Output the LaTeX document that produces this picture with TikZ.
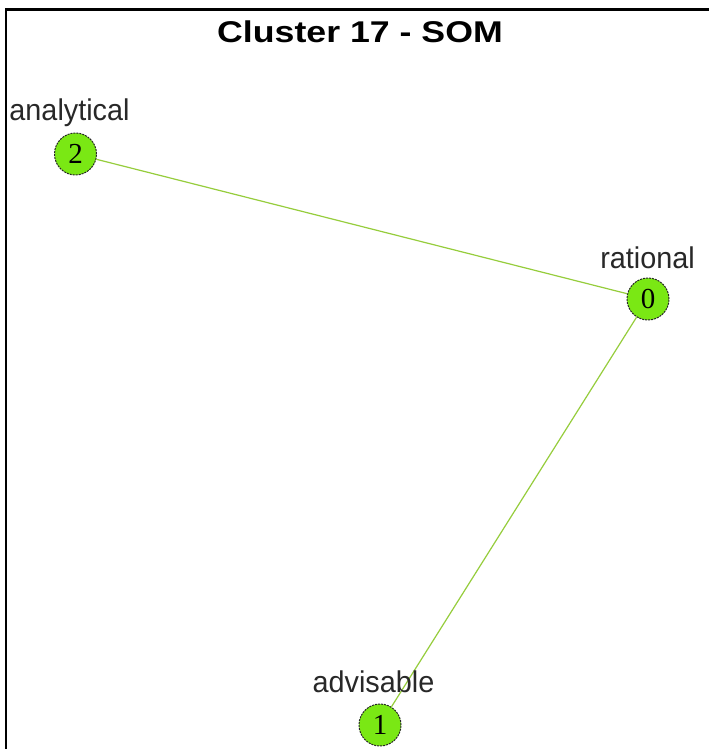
\documentclass[tikz,border=0pt]{standalone}
\usepackage{fontspec}
\setmainfont{Liberation Serif}
\newfontfamily\titlefont[FakeStretch=1.19]{Liberation Sans Bold}
\newfontfamily\labelfont[FakeStretch=0.96]{Liberation Sans}
\newfontfamily\numfont{Liberation Serif}
\definecolor{nodegreen}{RGB}{122,232,20}
\definecolor{edgegreen}{RGB}{150,205,60}
\definecolor{labelgray}{RGB}{40,40,40}
\begin{document}
\begin{tikzpicture}[x=1pt,y=-1pt,
  vertex/.style={circle,draw=black!85,dash pattern=on 2pt off 1pt,line width=1pt,fill=nodegreen,minimum size=42pt,inner sep=0pt,font=\numfont\fontsize{29}{29}\selectfont},
  word/.style={anchor=base,text=labelgray,inner sep=0pt,font=\labelfont\fontsize{30}{30}\selectfont},
  link/.style={draw=edgegreen,line width=1.2pt}]
\useasboundingbox (0,0) rectangle (709,749);
\fill[white] (0,0) rectangle (709,749);
% frame on the left and top
\draw[line width=2.5pt,black] (6,749) -- (6,9.5) -- (709,9.5);
% title
\node[anchor=base,inner sep=0pt,font=\titlefont\fontsize{30}{30}\selectfont] (title) at (360,43) {Cluster 17 - SOM};
% vertices
\node[vertex] (v2) at (75.5,154) {2};
\node[vertex] (v0) at (648,299) {0};
\node[vertex] (v1) at (380,725) {1};
% edges
\draw[link] (v2) -- (v0);
\draw[link] (v0) -- (v1);
% labels
\node[word] (l2) at (69.5,121) {analytical};
\node[word] (l0) at (647.5,268) {rational};
\node[word] (l1) at (373.5,692) {advisable};
\end{tikzpicture}
\end{document}
